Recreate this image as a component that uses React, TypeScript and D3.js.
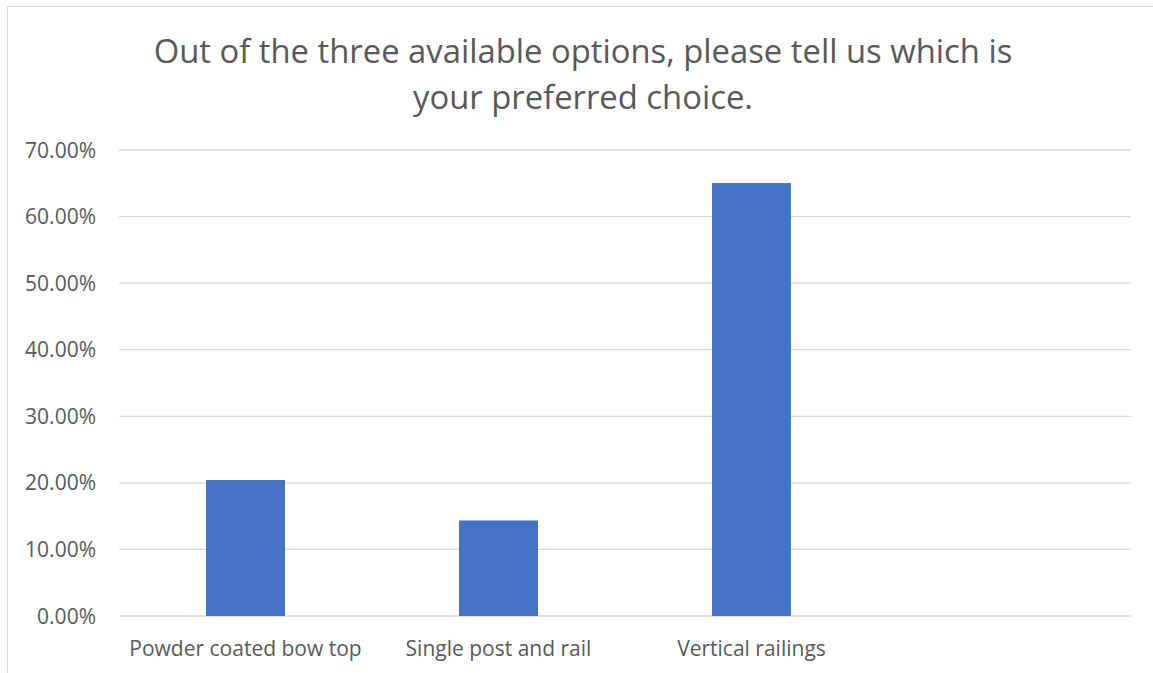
import React from "react";
import * as d3 from "d3";

const categories = ["Powder coated bow top", "Single post and rail", "Vertical railings", ""];
const values = [0.2043, 0.1435, 0.6504, null];
const yTicks = [0, 0.1, 0.2, 0.3, 0.4, 0.5, 0.6, 0.7];
const titleLines = ["Out of the three available options, please tell us which is", "your preferred choice."];

export default function App() {
  const W = 1153, H = 673;
  const left = 119, right = 1131, top = 150, bottom = 616;
  const x = d3.scaleBand<string>().domain(categories.map((c, i) => c + i)).range([left, right]).paddingInner(0.688).paddingOuter(0.344);
  const xc = d3.scaleBand<string>().domain(categories.map((c, i) => c + i)).range([left, right]);
  const y = d3.scaleLinear().domain([0, 0.7]).range([bottom, top]);
  const font = "'Open Sans', sans-serif";
  return (
    <svg width={W} height={H} style={{ position: "absolute", left: 0, top: 0, background: "#fff" }} fontFamily={font}>
      <line x1={7.5} y1={6.5} x2={1153} y2={6.5} stroke="#d9d9d9" />
      <line x1={7.5} y1={6.5} x2={7.5} y2={673} stroke="#d9d9d9" />
      {titleLines.map((t, i) => (
        <text key={i} x={583} y={63 + i * 46} textAnchor="middle" fontSize={32.8} fill="#595959">{t}</text>
      ))}
      {yTicks.map((t) => (
        <g key={t}>
          <line x1={left} x2={right} y1={y(t)} y2={y(t)} stroke="#d9d9d9" strokeWidth={1.3} />
          <text x={96} y={y(t) + 7.5} textAnchor="end" fontSize={21} fill="#595959">{d3.format(".2%")(t)}</text>
        </g>
      ))}
      {values.map((v, i) => v == null ? null : (
        <rect key={i} x={x(categories[i] + i)} width={x.bandwidth()} y={y(v)} height={y(0) - y(v)} fill="#4472c4" />
      ))}
      {categories.map((c, i) => (
        <text key={i} x={(xc(c + i) as number) + xc.bandwidth() / 2} y={656} textAnchor="middle" fontSize={21} fill="#595959">{c}</text>
      ))}
    </svg>
  );
}
